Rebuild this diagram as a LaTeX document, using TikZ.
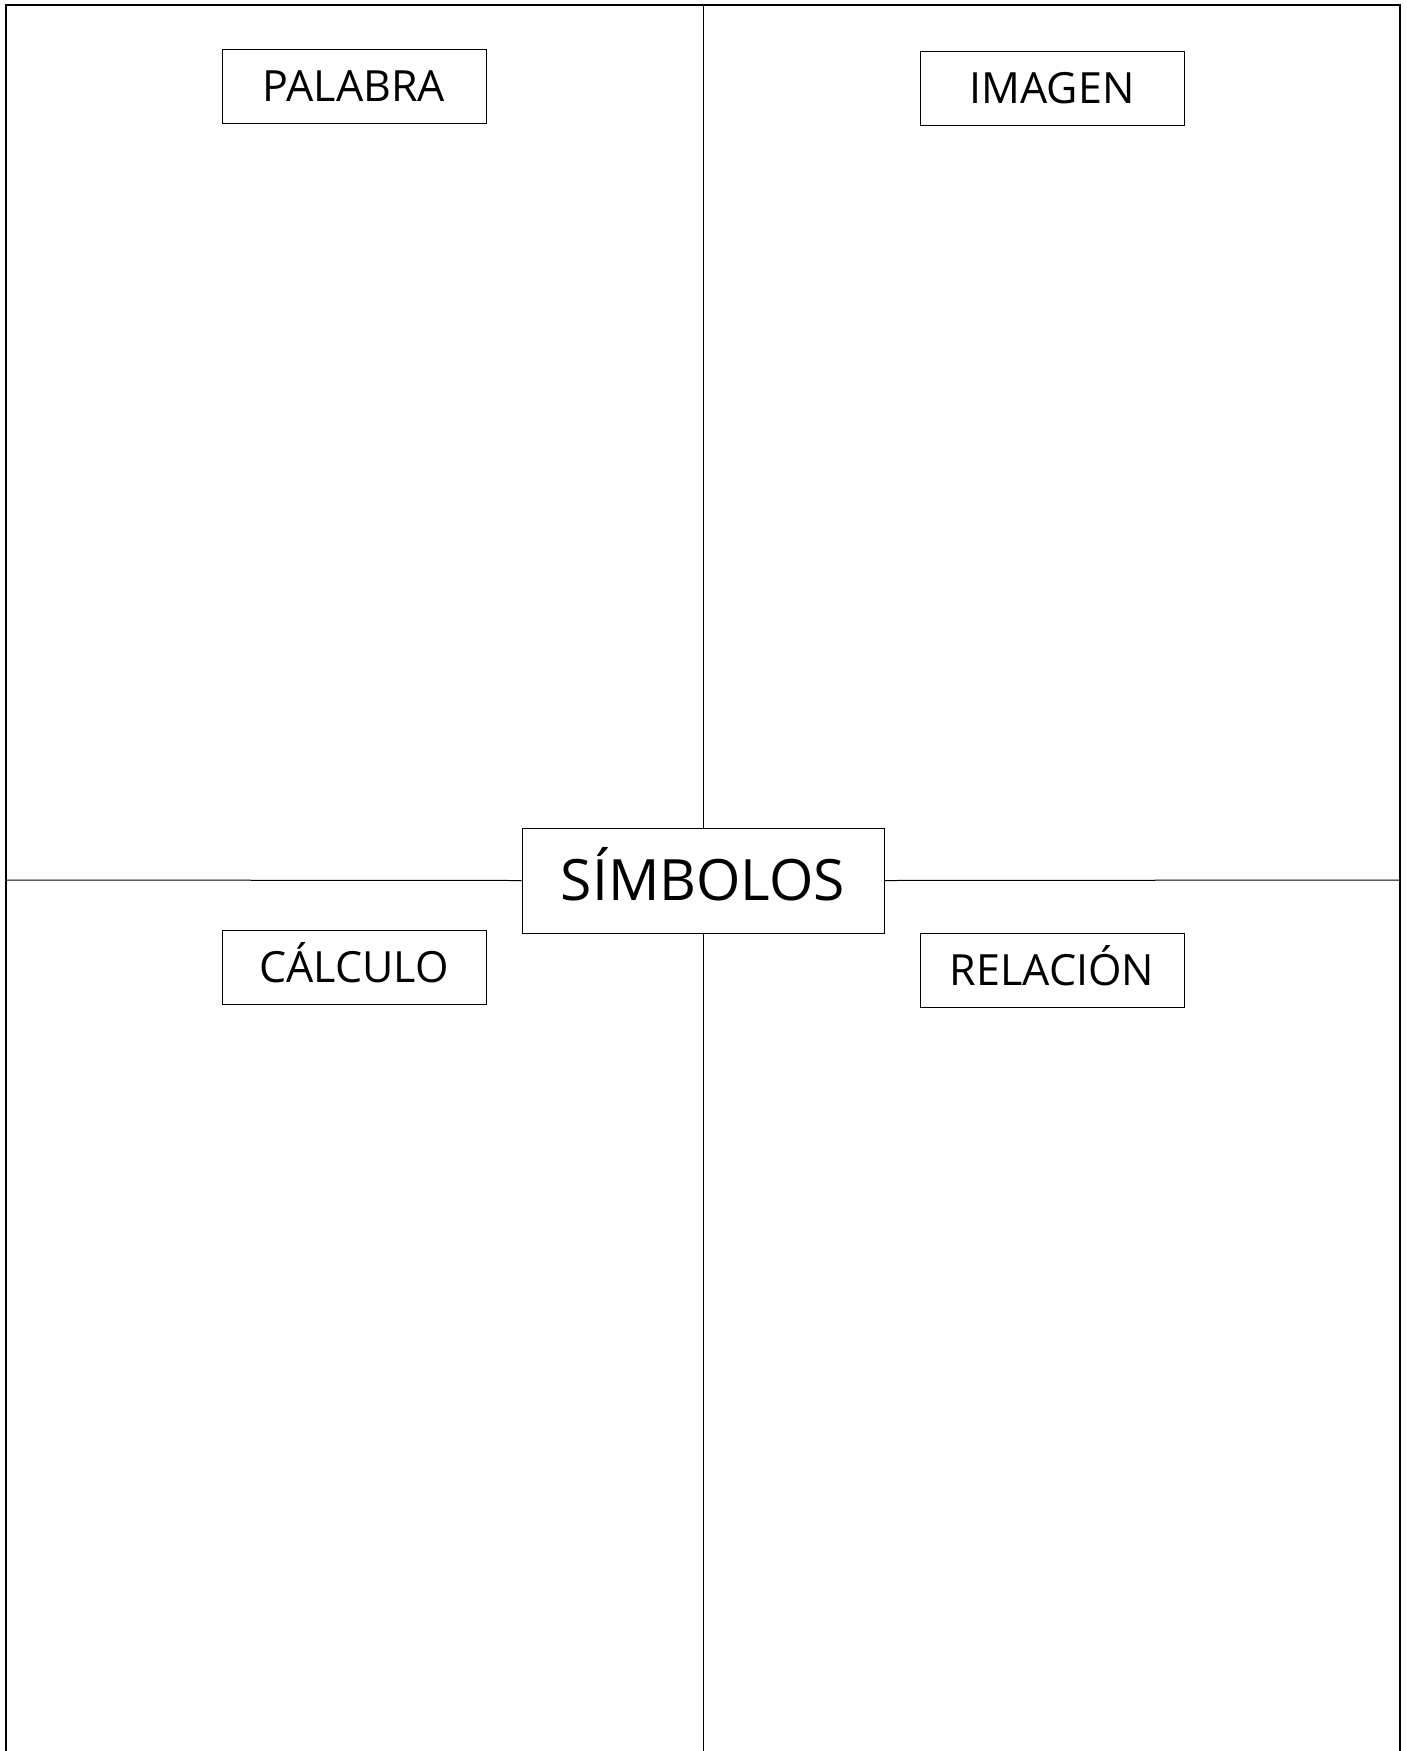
\documentclass[tikz,border=0pt]{standalone}
\usepackage{fontspec}
\setmainfont{Open Sans}
\usepackage{tikz}
\usetikzlibrary{calc,positioning}

\begin{document}
\begin{tikzpicture}[x=0.5pt, y=-0.5pt,
    box/.style={rectangle, draw, line width=0.5pt, minimum width=132pt, minimum height=37pt, inner sep=0pt, align=center, text height=15.4pt, text depth=0pt, font=\fontsize{21.5}{24}\selectfont},
    mainbox/.style={box, fill=white, minimum width=181pt, minimum height=52.5pt, text height=20.3pt, font=\fontsize{28.5}{32}\selectfont},
    rule/.style={line width=0.5pt}]
    \useasboundingbox (0,0) rectangle (1407,1751);

    % frame (open at the bottom)
    \draw[line width=0.8pt] (6,1751) -- (6,5) -- (1400,5) -- (1400,1751);

    \coordinate (top) at (703,5);
    \coordinate (bottom) at (703,1751);
    \coordinate (left) at (6,880);
    \coordinate (right) at (1400,880);

    \node[mainbox] (simbolos) at (703,880.5) {SÍMBOLOS};
    \node[box] (palabra) at (354,86) {PALABRA};
    \node[box] (imagen) at (1052,88) {IMAGEN};
    \node[box] (calculo) at (354,967) {CÁLCULO};
    \node[box] (relacion) at (1052,970.5) {RELACIÓN};

    \draw[rule] (top) -- (simbolos.north);
    \draw[rule] (simbolos.south) -- (bottom);
    \draw[rule] (left) -- (simbolos.west);
    \draw[rule] (simbolos.east) -- (right);
\end{tikzpicture}
\end{document}
